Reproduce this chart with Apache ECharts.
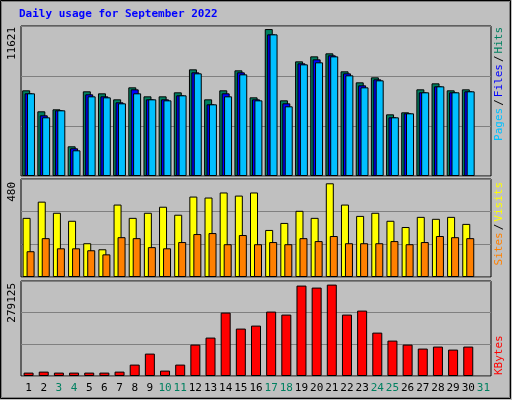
<!DOCTYPE html>
<html>
<head>
<meta charset="utf-8">
<script src="https://cdn.jsdelivr.net/npm/echarts@6/dist/echarts.min.js"></script>
<style>
  html, body { margin: 0; padding: 0; background: #c0c0c0; }
  #chart { width: 512px; height: 400px; }
</style>
</head>
<body>
<div id="chart"></div>
<script>
// values
const days = ['1','2','3','4','5','6','7','8','9','10','11','12','13','14','15','16','17','18','19','20','21','22','23','24','25','26','27','28','29','30','31'];
const weekendDays = ['3','4','10','11','17','18','24','25','31'];

const hits = [6775,5115,5273,2348,6696,6538,6063,7012,6300,6300,6617,8435,6063,6775,8356,6221,11621,5984,9067,9462,9700,8277,7407,7802,4877,5036,6854,7328,6775,6854,null];
const files = [6538,4798,5194,2190,6459,6300,5826,6854,6063,6063,6380,8198,5668,6538,8198,6063,11202,5747,8909,9225,9542,8119,7170,7644,4640,4957,6617,7091,6617,6696,null];
const pages = [6538,4640,5194,2032,6300,6221,5747,6538,6063,5984,6380,8119,5668,6300,8040,5984,11202,5510,8830,8988,9462,7960,7012,7565,4640,4957,6617,7091,6617,6696,null];

const visits = [303,386,329,288,173,142,371,303,329,360,319,412,407,433,417,433,241,277,339,303,480,371,313,329,288,256,308,298,308,272,null];
const sites = [132,199,147,147,137,116,204,199,153,147,179,220,225,168,215,168,179,168,199,184,210,173,173,173,184,168,179,210,204,199,null];

const kbytes = [10400,13400,10400,10400,10400,10400,13400,34800,68400,16500,34800,95900,117300,193600,144800,153900,196700,187500,276100,270000,279125,187500,199700,132500,108100,95900,83700,89800,80600,89800,null];

const chart = echarts.init(document.getElementById('chart'));
const mono = 'DejaVu Sans Mono';

const grids = [
  { left: 21, right: 21, top: 26, height: 150 },
  { left: 21, right: 21, top: 179, height: 98 },
  { left: 21, right: 21, top: 281, height: 95 },
];

function xAxis(i, labels) {
  return {
    type: 'category', gridIndex: i, data: days,
    axisLine: { show: false }, axisTick: { show: false },
    axisLabel: labels ? {
      show: true, interval: 0, fontFamily: mono, fontSize: 11, margin: 7,
      formatter: (v) => weekendDays.includes(v) ? '{w|' + v + '}' : v,
      color: '#000',
      rich: { w: { color: '#008060', fontFamily: mono, fontSize: 11 } },
    } : { show: false },
  };
}
function yAxis(i, max) {
  return {
    type: 'value', gridIndex: i, min: 0, max: max, interval: max / 3,
    axisLabel: { show: false }, axisLine: { show: false }, axisTick: { show: false },
    splitLine: { lineStyle: { color: '#808080', width: 1 } },
  };
}
const border = { borderColor: '#000', borderWidth: 1 };

// vertical text, read bottom to top
function vtext(x, y, text, align, style) {
  return { type: 'text', x: x, y: y, rotation: Math.PI / 2,
    style: Object.assign({ text: text, font: '11px ' + mono, textAlign: align, textVerticalAlign: 'top' }, style) };
}
const sep = { fill: '#000', font: '11px ' + mono, padding: [0, 2] };

chart.setOption({
  backgroundColor: '#c0c0c0',
  animation: false,
  grid: grids.map(g => Object.assign({ show: true, backgroundColor: '#c0c0c0', borderColor: '#000', borderWidth: 1 }, g)),
  xAxis: [xAxis(0, false), xAxis(1, false), xAxis(2, true)],
  yAxis: [yAxis(0, 11862), yAxis(1, 502), yAxis(2, 290100)],
  series: [
    { name: 'Hits', type: 'bar', data: hits, barWidth: 8, barGap: '-70%', itemStyle: Object.assign({ color: '#008060' }, border) },
    { name: 'Files', type: 'bar', data: files, barWidth: 8, barGap: '-70%', itemStyle: Object.assign({ color: '#0000ff' }, border) },
    { name: 'Pages', type: 'bar', data: pages, barWidth: 8, barGap: '-70%', itemStyle: Object.assign({ color: '#00c0ff' }, border) },
    { name: 'Visits', type: 'bar', xAxisIndex: 1, yAxisIndex: 1, data: visits, barWidth: 8, barGap: '-50%', itemStyle: Object.assign({ color: '#ffff00' }, border) },
    { name: 'Sites', type: 'bar', xAxisIndex: 1, yAxisIndex: 1, data: sites, barWidth: 8, barGap: '-50%', itemStyle: Object.assign({ color: '#ff8000' }, border) },
    { name: 'KBytes', type: 'bar', xAxisIndex: 2, yAxisIndex: 2, data: kbytes, barWidth: 10, itemStyle: Object.assign({ color: '#ff0000' }, border) },
  ],
  graphic: [
    { type: 'rect', shape: { x: 0.5, y: 0.5, width: 510, height: 398 }, style: { fill: 'none', stroke: '#000', lineWidth: 1 } },
    { type: 'rect', shape: { x: 1.5, y: 1.5, width: 508, height: 396 }, style: { fill: 'none', stroke: '#808080', lineWidth: 1 } },
    { type: 'text', x: 19, y: 9, style: { text: 'Daily usage for September 2022', fill: '#0000ff', font: 'bold 11px ' + mono } },
    vtext(7, 27, '11621', 'right', { fill: '#000' }),
    vtext(7, 182, '480', 'right', { fill: '#000' }),
    vtext(7, 283, '279125', 'right', { fill: '#000' }),
    vtext(494, 27, '{p|Pages}{s|/}{f|Files}{s|/}{h|Hits}', 'right', { rich: {
      h: { fill: '#008060', font: '11px ' + mono }, s: sep,
      f: { fill: '#0000ff', font: '11px ' + mono }, p: { fill: '#00c0ff', font: '11px ' + mono },
    } }),
    vtext(494, 182, '{t|Sites}{s|/}{v|Visits}', 'right', { rich: {
      v: { fill: '#ffff00', font: '11px ' + mono }, s: sep,
      t: { fill: '#ff8000', font: '11px ' + mono },
    } }),
    vtext(494, 375, 'KBytes', 'left', { fill: '#ff0000' }),
  ],
});
</script>
</body>
</html>
